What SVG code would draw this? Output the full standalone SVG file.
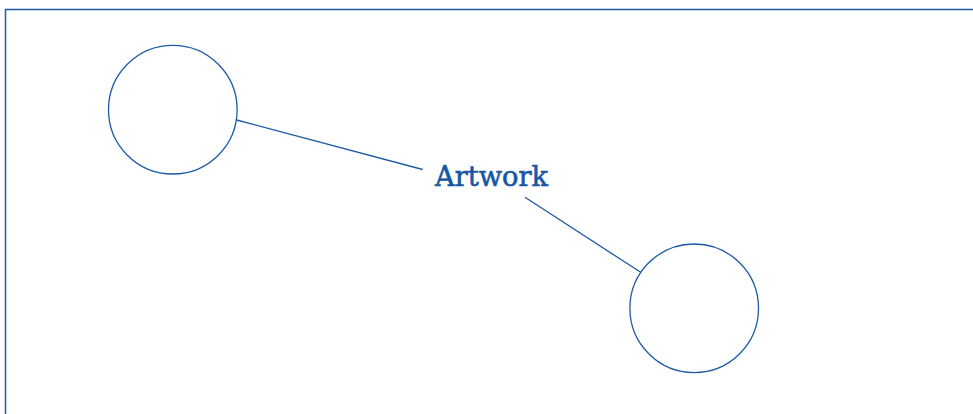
<svg xmlns="http://www.w3.org/2000/svg" width="973" height="414" viewBox="0 0 973 414">
<style>
.frame{fill:none;stroke:#1d5aa6;stroke-width:1.5}
.node{fill:#fff;stroke:#1d5aa6;stroke-width:1.3}
.conn{stroke:#1d5aa6;stroke-width:1.3;fill:none}
.lbl{font-family:"DejaVu Serif","Liberation Serif",serif;font-size:27px;fill:#1556a5;stroke:#1556a5;stroke-width:0.6}
</style>
<rect width="973" height="414" fill="#fff"/>
<path class="frame" d="M5.5,414 V9.5 H973"/>
<g id="connectors">
<line class="conn" x1="236.7" y1="120" x2="422.7" y2="169.5"/>
<line class="conn" x1="525" y1="197.3" x2="640.7" y2="272.3"/>
</g>
<g id="node1"><circle class="node" cx="172.8" cy="109.7" r="64.3"/></g>
<g id="node2"><circle class="node" cx="694.2" cy="308.3" r="64.3"/></g>
<g id="label"><text class="lbl" x="435" y="186" textLength="113" lengthAdjust="spacingAndGlyphs">Artwork</text></g>
</svg>
